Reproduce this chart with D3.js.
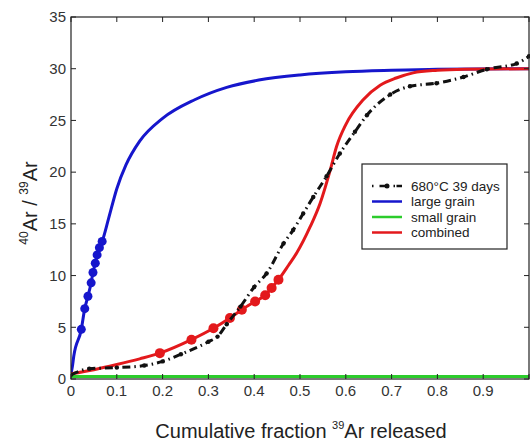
<!DOCTYPE html>
<html>
<head>
<meta charset="utf-8">
<script src="https://cdn.jsdelivr.net/npm/d3@7"></script>
<style>
	body { margin: 0; background: #fff; }
	svg { font-family: "Liberation Sans", Arial, sans-serif; }
</style>
</head>
<body>
<svg id="SVG" width="530" height="445"></svg>
<script>
// measured 680C / 39 days step-heating run
var measured = [
	[0, 0.4], [0.04, 1.0], [0.1, 1.1], [0.16, 1.3], [0.2, 1.7], [0.24, 2.4], [0.3, 3.6],
	[0.32, 4.1], [0.34, 5.3], [0.37, 7.0], [0.4, 8.9], [0.427, 10.2], [0.464, 13.1],
	[0.485, 14.4], [0.507, 16.0], [0.529, 17.6], [0.558, 19.6], [0.587, 21.8], [0.62, 23.9],
	[0.646, 25.5], [0.697, 27.5], [0.74, 28.3], [0.798, 28.6], [0.857, 29.2], [0.908, 29.95],
	[0.973, 30.5], [1.0, 31.2]
];
// model curves
var largeGrain = [
	[0, 0.5], [0.003, 1.2], [0.006, 2.2], [0.0225, 4.8], [0.03, 6.8], [0.037, 8.0], [0.044, 9.3],
	[0.048, 10.3], [0.053, 11.2], [0.057, 12.0], [0.062, 12.7], [0.068, 13.3], [0.082, 15.5],
	[0.1, 18.4], [0.12, 20.7], [0.15, 23.0], [0.2, 25.2], [0.27, 27.0], [0.34, 28.2], [0.41, 28.9],
	[0.5, 29.4], [0.6, 29.7], [0.7, 29.85], [0.8, 29.95], [1.0, 30]
];
var largeGrainSteps = [
	[0.0225, 4.8], [0.03, 6.8], [0.037, 8.0], [0.044, 9.3], [0.048, 10.3], [0.053, 11.2],
	[0.057, 12.0], [0.062, 12.7], [0.068, 13.3]
];
var smallGrain = [[0, 0.25], [0.25, 0.25], [0.5, 0.25], [0.75, 0.25], [1.0, 0.25]];
var combined = [
	[0, 0.5], [0.05, 0.9], [0.1, 1.4], [0.15, 1.95], [0.194, 2.5], [0.263, 3.8], [0.311, 4.9],
	[0.347, 5.9], [0.373, 6.7], [0.402, 7.5], [0.424, 8.1], [0.438, 8.8], [0.453, 9.6],
	[0.475, 11.0], [0.493, 12.2], [0.522, 14.7], [0.544, 17.0], [0.566, 20.2], [0.58, 22.5],
	[0.6, 24.6], [0.638, 27.0], [0.675, 28.4], [0.71, 29.1], [0.747, 29.6], [0.8, 29.85],
	[0.86, 29.95], [1.0, 30]
];
var combinedSteps = [
	[0.194, 2.5], [0.263, 3.8], [0.311, 4.9], [0.347, 5.9], [0.373, 6.7], [0.402, 7.5],
	[0.424, 8.1], [0.438, 8.8], [0.453, 9.6]
];
var xTicks = [0, 0.1, 0.2, 0.3, 0.4, 0.5, 0.6, 0.7, 0.8, 0.9, 1];
var yTicks = [0, 5, 10, 15, 20, 25, 30, 35];
var legendItems = ["680°C 39 days", "large grain", "small grain", "combined"];

var colors = { measured: "#111", large: "#1616cc", small: "#2ccc2c", combined: "#e3191c" };

var svg = d3.select("#SVG"),
	m = { left: 71, right: 529, top: 17, bottom: 379 };

var x = d3.scaleLinear().domain([0, 1]).range([m.left, m.right]);
var y = d3.scaleLinear().domain([0, 35]).range([m.bottom, m.top]);

var line = d3.line()
	.x(function(d) { return x(d[0]); })
	.y(function(d) { return y(d[1]); })
	.curve(d3.curveMonotoneX);

svg.append("clipPath").attr("id", "clip")
	.append("rect").attr("x", m.left).attr("y", m.top)
	.attr("width", m.right - m.left + 2).attr("height", m.bottom - m.top + 2);

var plot = svg.append("g").attr("clip-path", "url(#clip)");

plot.append("path").datum(smallGrain)
	.attr("d", line).attr("fill", "none").attr("stroke", colors.small).attr("stroke-width", 3);

plot.append("path").datum(largeGrain)
	.attr("d", line).attr("fill", "none").attr("stroke", colors.large).attr("stroke-width", 3);

plot.selectAll(".lg").data(largeGrainSteps).enter().append("circle")
	.attr("cx", function(d) { return x(d[0]); })
	.attr("cy", function(d) { return y(d[1]); })
	.attr("r", 4.5).attr("fill", colors.large);

plot.append("path").datum(combined)
	.attr("d", line).attr("fill", "none").attr("stroke", colors.combined).attr("stroke-width", 3);

plot.selectAll(".cb").data(combinedSteps).enter().append("circle")
	.attr("cx", function(d) { return x(d[0]); })
	.attr("cy", function(d) { return y(d[1]); })
	.attr("r", 5).attr("fill", colors.combined);

plot.append("path").datum(measured)
	.attr("d", line).attr("fill", "none").attr("stroke", colors.measured)
	.attr("stroke-width", 3).attr("stroke-dasharray", "8,4,1.5,4");

plot.selectAll(".ms").data(measured).enter().append("circle")
	.attr("cx", function(d) { return x(d[0]); })
	.attr("cy", function(d) { return y(d[1]); })
	.attr("r", 2.2).attr("fill", colors.measured);

// box + inward ticks
svg.append("rect")
	.attr("x", m.left).attr("y", m.top).attr("width", m.right - m.left).attr("height", m.bottom - m.top)
	.attr("fill", "none").attr("stroke", "#222").attr("stroke-width", 1.2);

var xAxis = svg.append("g");
xTicks.forEach(function(t) {
	xAxis.append("line").attr("x1", x(t)).attr("x2", x(t)).attr("y1", m.bottom).attr("y2", m.bottom - 5).attr("stroke", "#222");
	xAxis.append("line").attr("x1", x(t)).attr("x2", x(t)).attr("y1", m.top).attr("y2", m.top + 5).attr("stroke", "#222");
	if (t < 1) {
		xAxis.append("text").attr("x", x(t)).attr("y", m.bottom + 17)
			.attr("text-anchor", "middle").attr("font-size", 15).attr("fill", "#333")
			.text(t === 0 ? "0" : d3.format(".1f")(t));
	}
});

var yAxis = svg.append("g");
yTicks.forEach(function(t) {
	yAxis.append("line").attr("x1", m.left).attr("x2", m.left + 5).attr("y1", y(t)).attr("y2", y(t)).attr("stroke", "#222");
	yAxis.append("line").attr("x1", m.right).attr("x2", m.right - 5).attr("y1", y(t)).attr("y2", y(t)).attr("stroke", "#222");
	yAxis.append("text").attr("x", m.left - 5).attr("y", y(t)).attr("dy", "0.35em")
		.attr("text-anchor", "end").attr("font-size", 15).attr("fill", "#333")
		.text(t);
});

// axis titles
var xt = svg.append("text").attr("x", 301).attr("y", 438)
	.attr("text-anchor", "middle").attr("font-size", 20).attr("fill", "#222");
xt.append("tspan").text("Cumulative fraction ");
xt.append("tspan").attr("font-size", 11).attr("dy", -9).text("39");
xt.append("tspan").attr("dy", 9).text("Ar released");

var yt = svg.append("text").attr("transform", "translate(37,203) rotate(-90)")
	.attr("text-anchor", "middle").attr("font-size", 20).attr("fill", "#222");
yt.append("tspan").attr("font-size", 12).attr("dy", -9).text("40");
yt.append("tspan").attr("dy", 9).text("Ar / ");
yt.append("tspan").attr("font-size", 12).attr("dy", -9).text("39");
yt.append("tspan").attr("dy", 9).text("Ar");

// legend
var lg = svg.append("g").attr("transform", "translate(362,164)");
lg.append("rect").attr("width", 145).attr("height", 85)
	.attr("fill", "#fff").attr("stroke", "#222").attr("stroke-width", 1.2);

var lgColors = [colors.measured, colors.large, colors.small, colors.combined];
legendItems.forEach(function(name, i) {
	var yy = 22 + i * 15.5;
	var l = lg.append("line").attr("x1", 10).attr("x2", 40).attr("y1", yy).attr("y2", yy)
		.attr("stroke", lgColors[i]).attr("stroke-width", 2.5);
	if (i === 0) {
		l.attr("stroke-dasharray", "1.5,6,8,6,1.5");
		lg.append("circle").attr("cx", 25).attr("cy", yy).attr("r", 2.5).attr("fill", colors.measured);
	}
	lg.append("text").attr("x", 49).attr("y", yy).attr("dy", "0.35em")
		.attr("font-size", 13.5).attr("fill", "#222").text(name);
});
</script>
</body>
</html>
